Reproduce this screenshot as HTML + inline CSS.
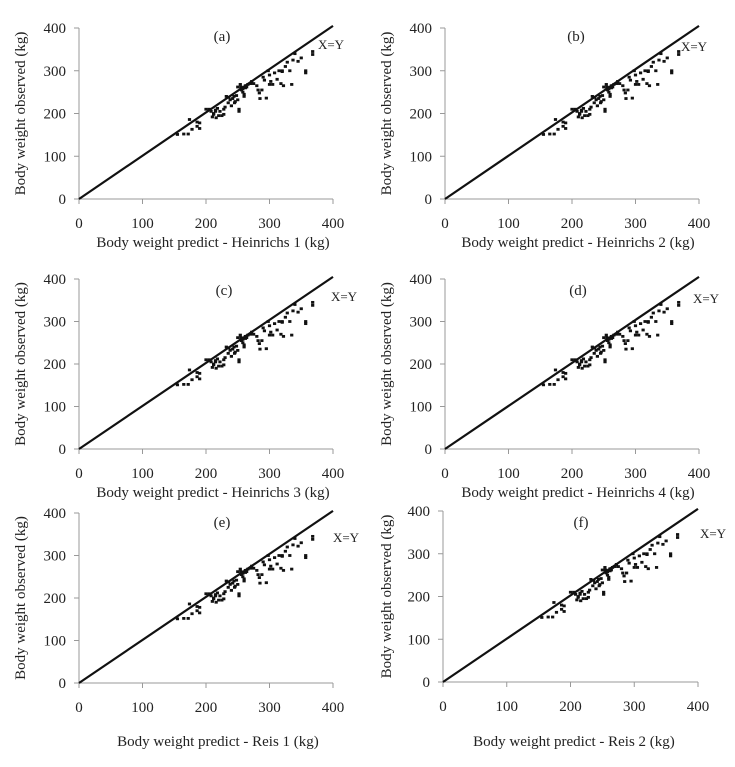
<!DOCTYPE html>
<html><head><meta charset="utf-8"><style>
html,body{margin:0;padding:0;background:#fff;}
svg text{font-family:"Liberation Serif",serif;fill:#222;}
</style></head><body>
<svg id="fig" width="735" height="762" viewBox="0 0 735 762" xmlns="http://www.w3.org/2000/svg"></svg>
<script>
const predicted=[155,165,172,178,174,186,190,190,205,208,210,212,215,216,218,220,222,225,228,230,232,235,238,240,242,244,246,248,250,252,252,254,255,256,258,260,262,264,266,270,272,275,280,282,284,285,288,290,292,295,298,300,302,305,308,312,315,318,320,322,325,328,332,335,337,340,345,350,357,357,368,368,260,245,228,212,258,236,200,262,186,215,250,300,320];
const observed=[151,152,152,163,186,170,178,165,210,205,192,200,208,190,212,195,205,195,198,215,240,225,232,218,235,240,228,242,232,210,205,268,262,255,250,245,260,262,268,270,275,270,265,255,248,235,255,285,278,236,300,290,275,268,295,280,300,270,298,265,310,320,300,268,325,340,322,330,300,295,338,345,240,225,210,198,258,238,210,265,180,205,262,268,300];
const xTicks=[0,100,200,300,400];
const yTicks=[0,100,200,300,400];
const panels=[
 {id:'a',x0:79,x1:333,y0:199,y1:28,tx:222,ty:41,ex:331,ey:49,lx:213,ly:247,lab:'Body weight predict - Heinrichs 1 (kg)',yl:20},
 {id:'b',x0:445,x1:699,y0:199,y1:28,tx:576,ty:41,ex:694,ey:51,lx:578,ly:247,lab:'Body weight predict - Heinrichs 2 (kg)',yl:386},
 {id:'c',x0:79,x1:333,y0:449,y1:279,tx:224,ty:295,ex:344,ey:301,lx:213,ly:497,lab:'Body weight predict - Heinrichs 3 (kg)',yl:20},
 {id:'d',x0:445,x1:699,y0:449,y1:279,tx:578,ty:295,ex:706,ey:303,lx:578,ly:497,lab:'Body weight predict - Heinrichs 4 (kg)',yl:386},
 {id:'e',x0:79,x1:333,y0:683,y1:513,tx:222,ty:527,ex:346,ey:542,lx:218,ly:746,lab:'Body weight predict - Reis 1 (kg)',yl:20},
 {id:'f',x0:443,x1:698,y0:682,y1:511,tx:581,ty:527,ex:713,ey:538,lx:574,ly:746,lab:'Body weight predict - Reis 2 (kg)',yl:386}
];
const NS='http://www.w3.org/2000/svg';
const svg=document.getElementById('fig');
function mk(t,a,p){const e=document.createElementNS(NS,t);for(const k in a)e.setAttribute(k,a[k]);(p||svg).appendChild(e);return e;}
panels.forEach(P=>{
 const g=mk('g',{});
 
 
 const sx=v=>P.x0+(P.x1-P.x0)*v/400;
 const sy=v=>P.y0-(P.y0-P.y1)*v/400;
 const ya=mk('line',{x1:P.x0,y1:P.y1,x2:P.x0,y2:P.y0,stroke:'#999','stroke-width':1},g);
 
 
 const xa=mk('line',{x1:P.x0,y1:P.y0,x2:P.x1,y2:P.y0,stroke:'#999','stroke-width':1},g);
 
 
 xTicks.forEach(v=>{
  mk('line',{x1:sx(v),y1:P.y0,x2:sx(v),y2:P.y0+5,stroke:'#999'},g);
  const t=mk('text',{x:sx(v),y:P.y0+29,'text-anchor':'middle','font-size':15},g);t.textContent=v;
  
  
 });
 yTicks.forEach(v=>{
  mk('line',{x1:P.x0-5,y1:sy(v),x2:P.x0,y2:sy(v),stroke:'#999'},g);
  const t=mk('text',{x:P.x0-13,y:sy(v)+5,'text-anchor':'end','font-size':15},g);t.textContent=v;
  
  
 });
 const dl=mk('line',{x1:sx(0),y1:sy(0),x2:sx(400),y2:sy(405),stroke:'#111','stroke-width':2.2},g);
 
 
 predicted.forEach((p,i)=>{
  const c=mk('rect',{x:sx(p)-1.6,y:sy(observed[i])-1.4,width:3.2,height:2.8,fill:'#111'},g);
  
  
 });
 const ti=mk('text',{x:P.tx,y:P.ty,'text-anchor':'middle','font-size':15},g);ti.textContent='('+P.id+')';
 
 
 const ex=mk('text',{x:P.ex,y:P.ey,'text-anchor':'middle','font-size':13},g);ex.textContent='X=Y';
 
 
 const xl=mk('text',{x:P.lx,y:P.ly,'text-anchor':'middle','font-size':15},g);xl.textContent=P.lab;
 
 
 const yc=(P.y0+P.y1)/2;
 const yl=mk('text',{x:P.yl,y:yc,'text-anchor':'middle','font-size':15,transform:'rotate(-90 '+P.yl+' '+yc+')',dy:5},g);yl.textContent='Body weight observed (kg)';
 
 
});
</script>
</body></html>
